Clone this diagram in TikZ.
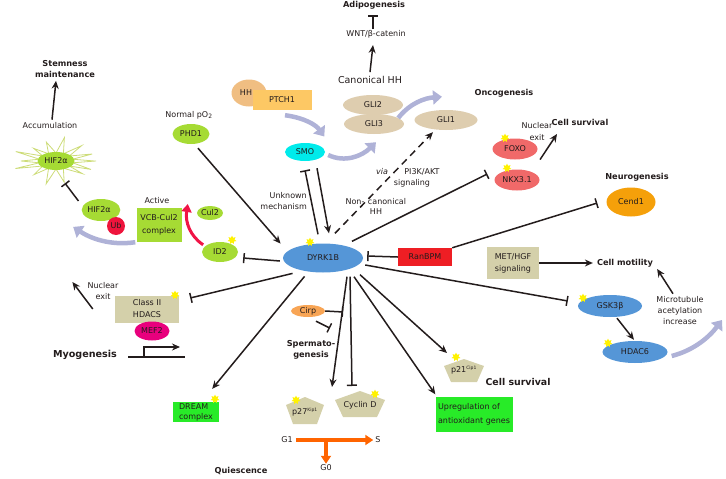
\documentclass[tikz,border=0pt]{standalone}
\usepackage{fontspec}
\setmainfont{DejaVu Sans}
\usetikzlibrary{shapes.geometric,arrows.meta,calc}
\definecolor{linec}{RGB}{35,28,28}
\definecolor{txtc}{RGB}{35,28,28}
\definecolor{grn}{RGB}{166,219,52}
\definecolor{bgrn}{RGB}{40,235,40}
\definecolor{tanb}{RGB}{212,208,170}
\definecolor{glic}{RGB}{222,205,175}
\definecolor{hhc}{RGB}{240,190,130}
\definecolor{ptc}{RGB}{253,200,100}
\definecolor{smoc}{RGB}{0,235,235}
\definecolor{bluec}{RGB}{85,150,215}
\definecolor{salm}{RGB}{240,105,105}
\definecolor{cendc}{RGB}{245,160,10}
\definecolor{cirpc}{RGB}{248,165,85}
\definecolor{mefc}{RGB}{232,0,125}
\definecolor{ubc}{RGB}{238,20,60}
\definecolor{ranc}{RGB}{238,30,36}
\definecolor{swc}{RGB}{175,178,215}
\definecolor{orc}{RGB}{255,100,0}
\definecolor{burstc}{RGB}{205,220,120}
\definecolor{redarc}{RGB}{240,20,70}
\begin{document}
\begin{tikzpicture}[x=1pt,y=-1pt,
 txt/.style={font=\fontsize{8}{11}\selectfont, text=txtc, inner sep=0pt, align=center},
 btxt/.style={font=\fontsize{8.2}{11}\selectfont\bfseries, text=txtc, inner sep=0pt, align=center},
 ell/.style={ellipse, txt, inner sep=0pt},
 box/.style={rectangle, txt, inner sep=0pt},
 ln/.style={draw=linec, line width=1.5pt},
 arr/.style={ln, -{Stealth[length=8pt,width=7pt]}},
 inh/.style={ln, -{Bar[width=10pt]}},
 swoosh/.style={draw=swc, line width=4.5pt, -{Triangle[width=14pt,length=9pt]}},
 orarr/.style={draw=orc, line width=3.5pt, -{Triangle[width=10pt,length=8pt]}},
 ystar/.style={star, star points=7, star point ratio=1.8, fill=yellow, draw=none, minimum size=9pt, inner sep=0pt},
]
\useasboundingbox (0,0) rectangle (726,479);

% ---------- starburst ----------
\draw[draw=burstc, line width=0.8pt] plot[domain=0:28, samples=29]
  ({56+ifthenelse(mod(round(\x),2)==0, 40+5*sin(\x*97), 17)*cos(\x*360/28)},
   {161+ifthenelse(mod(round(\x),2)==0, 20+4*cos(\x*131), 8)*sin(\x*360/28)}) -- cycle;

% ---------- nodes ----------
\node[btxt] (stem) at (65,69) {Stemness\\maintenance};
\node[txt] (accum) at (50,126) {Accumulation};
\node[ell, fill=grn, minimum width=37, minimum height=18] (hifa) at (56,161) {HIF2α};
\node[ell, fill=grn, minimum width=37, minimum height=22] (hifb) at (101,210) {HIF2α\hspace*{4pt}};
\node[circle, txt, fill=ubc, minimum size=18] (ub) at (116,226) {Ub};
\node[txt] (active) at (157,201) {Active};
\node[box, fill=grn, minimum width=45, minimum height=34, font=\fontsize{8}{13}\selectfont] (vcb) at (159,225) {VCB-Cul2\\complex};
\node[ell, fill=grn, minimum width=26, minimum height=14] (cul2) at (210,213) {Cul2};
\node[ell, fill=grn, minimum width=36, minimum height=20] (id2) at (220,252) {ID2};
\node[txt] (npo) at (189,115) {Normal pO\textsubscript{2}};
\node[ell, fill=grn, minimum width=37, minimum height=20] (phd) at (191,134) {PHD1};

\node[ell, fill=hhc, minimum width=35, minimum height=27] (hh) at (249,93) {HH\hspace*{6pt}};
\node[box, fill=ptc, minimum width=59, minimum height=20] (ptch) at (282,100) {PTCH1};
\node[ell, fill=smoc, minimum width=40, minimum height=18] (smo) at (305,152) {SMO};
\node[txt, font=\fontsize{9.5}{11}\selectfont] (canhh) at (370,80) {Canonical HH};
\node[txt] (wnt) at (376,34) {WNT/β-catenin};
\node[btxt] (adipo) at (374,5) {Adipogenesis};
\node[ell, fill=glic, minimum width=60, minimum height=20] (gli2) at (373,105) {GLI2};
\node[ell, fill=glic, minimum width=60, minimum height=20] (gli3) at (374,124) {GLI3};
\node[ell, fill=glic, minimum width=63, minimum height=20] (gli1) at (446,120) {GLI1};
\node[btxt] (onco) at (504,93) {Oncogenesis};
\node[txt, font=\fontsize{8}{11}\selectfont\itshape] (via) at (382,172) {via};
\node[txt] (pik) at (422,172) {PI3K/AKT};
\node[txt] (sig) at (412,183) {signaling};
\node[txt] (non) at (355,202) {Non-};
\node[txt] (canon) at (387,202) {canonical};
\node[txt] (nchh) at (376,212) {HH};
\node[txt, align=right, anchor=east] (unk) at (307,201) {Unknown\\mechanism};

\node[ell, fill=bluec, minimum width=80, minimum height=29] (dyrk) at (323,258) {DYRK1B};
\node[box, fill=ranc, minimum width=54, minimum height=18] (ran) at (425,257) {RanBPM};

\node[ell, fill=salm, minimum width=45, minimum height=21] (foxo) at (515,149) {FOXO};
\node[ell, fill=salm, minimum width=45, minimum height=21] (nkx) at (517,180) {NKX3.1};
\node[txt, font=\fontsize{8}{12}\selectfont] (nex1) at (537,132) {Nuclear\\exit};
\node[btxt] (csurv1) at (580,122) {Cell survival};
\node[btxt] (neuro) at (637,177) {Neurogenesis};
\node[ell, fill=cendc, minimum width=49, minimum height=29] (cend) at (631,202) {Cend1};
\node[box, fill=tanb, minimum width=52, minimum height=32, font=\fontsize{8}{12}\selectfont] (met) at (513,263) {MET/HGF\\signaling};
\node[btxt] (motil) at (625,263) {Cell motility};
\node[ell, fill=bluec, minimum width=64, minimum height=22] (gsk) at (610,306) {GSK3β};
\node[ell, fill=bluec, minimum width=65, minimum height=22] (hdac) at (635,352) {HDAC6};
\node[txt] (micro) at (680,311) {Microtubule\\acetylation\\increase};

\node[txt, font=\fontsize{8}{11}\selectfont] (nex2) at (103,291) {Nuclear\\exit};
\node[box, fill=tanb, minimum width=64, minimum height=27, font=\fontsize{8}{12}\selectfont] (cls) at (147,309) {Class II\\HDACS};
\node[ell, fill=mefc, minimum width=35, minimum height=19] (mef) at (152,331) {MEF2};
\node[btxt, font=\fontsize{9.6}{11}\selectfont\bfseries] (myo) at (85,355) {Myogenesis};
\coordinate (prom) at (128,357);

\node[box, fill=bgrn, minimum width=46, minimum height=20, align=left, font=\fontsize{8}{10}\selectfont] (dream) at (196,412) {DREAM\\complex};
\node[ell, fill=cirpc, minimum width=34, minimum height=12] (cirp) at (308,311) {Cirp};
\node[btxt] (sperm) at (311,350) {Spermato-\\genesis};

\fill[tanb] (305,397) -- (324,405) -- (317,424) -- (293,424) -- (286,405) -- cycle;
\fill[tanb] (360,391) -- (385,400) -- (377,417) -- (343,417) -- (335,400) -- cycle;
\fill[tanb] (464,359) -- (484,366) -- (477,382) -- (451,382) -- (444,366) -- cycle;
\node[txt] (p27) at (305,412) {p27\textsuperscript{\fontsize{4.5}{5}\selectfont Kip1}};
\node[txt] (cyc) at (360,405) {Cyclin D};
\node[txt] (p21) at (464,370) {p21\textsuperscript{\fontsize{4.5}{5}\selectfont Cip1}};
\node[btxt, font=\fontsize{9.4}{11}\selectfont\bfseries] (csurv2) at (518,382) {Cell survival};
\node[box, fill=bgrn, minimum width=77, minimum height=35, align=left, font=\fontsize{8}{14}\selectfont] (anti) at (474,414) {Upregulation of\\antioxidant genes};

\node[txt] (g1) at (287,440) {G1};
\node[txt] (s) at (378,440) {S};
\node[txt] (g0) at (326,468) {G0};
\node[btxt] (quies) at (241,471) {Quiescence};
\coordinate (swend) at (722,320);

% ---------- swooshes ----------
\draw[swoosh] ($(ptch.south)+(3,5)$) .. controls (305,118) and (316,125) .. ($(smo.north east)+(5,-9)$);
\draw[swoosh] ($(smo.east)+(3,3)$) .. controls (345,163) and (362,156) .. ($(gli3.south)+(2,8)$);
\draw[swoosh] ($(gli3.east)+(-6,-6)$) .. controls (410,103) and (425,98) .. ($(gli1.north)+(-4,-13)$);
\draw[swoosh] ($(vcb.south west)+(-1,0)$) .. controls (110,246) and (90,238) .. ($(hifb.south west)+(-14,9)$);
\draw[swoosh] ($(hdac.east)+(4,4)$) .. controls (695,350) and (710,336) .. (swend);
\draw[draw=redarc, line width=3pt, -{Triangle[width=10pt,length=8pt]}] ($(id2.north west)+(-4,0)$) .. controls (190,236) and (185,222) .. ($(cul2.west)+(-9,-9)$);

% ---------- connectors ----------
\draw[arr] ($(accum.north)+(2,-3)$) -- ($(stem.south)+(-9,3)$);
\draw[inh] ($(hifb.west)+(-3,-9)$) -- ($(hifa.south)+(9,13)$);
\draw[arr] ($(phd.south)+(7,4)$) -- ($(dyrk.north west)+(-14,-4)$);
\draw[arr] ($(canhh.north)+(0,-4)$) -- ($(wnt.south)+(-3,7)$);
\draw[inh] ($(wnt.north)+(-3,-1)$) -- ($(adipo.south)+(-1,6)$);
\draw[inh] ($(dyrk.north)+(-5,-9)$) -- ($(smo.south)+(0,9)$);
\draw[arr] ($(smo.south)+(12,7)$) -- ($(dyrk.north)+(6,-10)$);
\draw[arr, dash pattern=on 7pt off 5pt] ($(dyrk.north)+(12,-10)$) -- ($(gli1.south)+(-13,2)$);
\draw[inh] ($(dyrk.north)+(29,-2)$) -- ($(nkx.west)+(-7,-6)$);
\draw[arr] ($(foxo.south east)+(9,3)$) -- ($(csurv1)+(-23,12)$);
\draw[inh] (ran.west) -- ($(dyrk.east)+(4,-2)$);
\draw[inh] (ran.north east) -- ($(cend.west)+(-9,1)$);
\draw[arr] (met.east) -- ($(motil.west)+(-4,0)$);
\draw[inh] ($(dyrk.east)+(2,7)$) -- ($(gsk.west)+(-10,-5)$);
\draw[arr] ($(gsk.south)+(7,1)$) -- ($(hdac.north)+(-1,-1)$);
\draw[arr] ($(micro.north)+(-7,-3)$) -- ($(motil.east)+(4,6)$);
\draw[inh] ($(dyrk.south west)+(-2,5)$) -- ($(cls.east)+(11,-11)$);
\draw[inh] ($(dyrk.west)+(-3,3)$) -- ($(id2.east)+(5,6)$);
\draw[arr] ($(cls.west)+(-22,0)$) -- ($(nex2.west)+(-15,-9)$);
\draw[ln] (prom) -- ++(57,0);
\draw[arr] ($(prom)+(16,0)$) -- ++(0,-10) -- ++(36,0);
\draw[arr] ($(dyrk.south west)+(10,8)$) -- ($(dream.north east)+(-7,-13)$);
\draw[arr] ($(dyrk.south)+(24,4)$) -- ($(p27)+(27,-25)$);
\draw[inh] ($(dyrk.south)+(27,4)$) -- ($(cyc)+(-8,-19)$);
\draw[arr] ($(dyrk.south)+(37,2)$) -- ($(p21)+(-17,-17)$);
\draw[arr] ($(dyrk.south)+(31,4)$) -- ($(anti.north west)+(0,-2)$);
\draw[inh] (cirp.east) -- ($(cirp.east)+(18,1)$);
\draw[inh] ($(cirp.south)+(8,4)$) -- ($(cirp.south)+(22,11)$);
\draw[orarr, shorten <=3pt, shorten >=2pt] (g1.east) -- (s.west);
\draw[orarr, shorten >=1pt] (g0 |- g1) -- (g0.north);

% ---------- yellow stars ----------
\node[ystar] (st1) at (232,240) {};
\node[ystar] (st2) at (310,242) {};
\node[ystar] (st3) at (505,138) {};
\node[ystar] (st4) at (507,168) {};
\node[ystar] (st5) at (175,295) {};
\node[ystar] (st6) at (583,298) {};
\node[ystar] (st7) at (608,343) {};
\node[ystar] (st8) at (215,399) {};
\node[ystar] (st9) at (296,400) {};
\node[ystar] (st10) at (375,394) {};
\node[ystar] (st11) at (456,357) {};
\end{tikzpicture}
\end{document}
